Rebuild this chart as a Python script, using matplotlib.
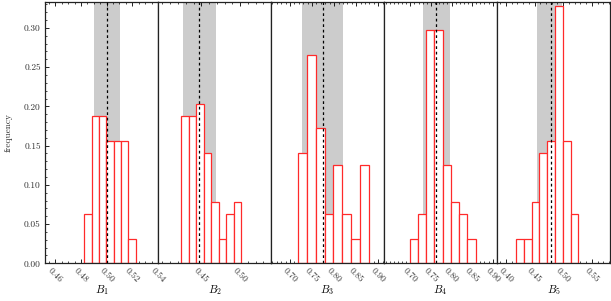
import numpy as np
import matplotlib
matplotlib.use("Agg")
import matplotlib.pyplot as plt
from matplotlib.ticker import FixedLocator, AutoMinorLocator, MultipleLocator, FormatStrFormatter

plt.rcParams['font.family'] = 'serif'
plt.rcParams['font.serif'] = ['cmr10', 'DejaVu Serif']
plt.rcParams['mathtext.fontset'] = 'cm'
plt.rcParams['axes.formatter.use_mathtext'] = True

# --- data ---
labels = ["$B_1$", "$B_2$", "$B_3$", "$B_4$", "$B_5$"]

edges_1 = [0.4826, 0.4883, 0.4940, 0.4998, 0.5055, 0.5112, 0.5168, 0.5225]
freq_1 = [0.0625, 0.1875, 0.1875, 0.15625, 0.15625, 0.15625, 0.03125]

edges_2 = [0.4238, 0.4336, 0.4432, 0.4529, 0.4626, 0.4723, 0.4820, 0.4918, 0.5016]
freq_2 = [0.1875, 0.1875, 0.203, 0.141, 0.078, 0.031, 0.0625, 0.078]

edges_3 = [0.7182, 0.7382, 0.7582, 0.7782, 0.7982, 0.8182, 0.8382, 0.8582, 0.8782]
freq_3 = [0.1403, 0.2657, 0.172, 0.0625, 0.125, 0.0625, 0.0315, 0.125]

edges_4 = [0.6985, 0.7185, 0.7385, 0.7585, 0.7785, 0.7985, 0.8185, 0.8385, 0.8585]
freq_4 = [0.0315, 0.0625, 0.2968, 0.2968, 0.125, 0.0787, 0.0625, 0.0315]

edges_5 = [0.4177, 0.4313, 0.4449, 0.4585, 0.4721, 0.4857, 0.4993, 0.5129, 0.5265]
freq_5 = [0.0315, 0.0315, 0.0787, 0.141, 0.156, 0.328, 0.156, 0.0625]

# median (dashed) and shaded band
centre = [0.5002, 0.4472, 0.7737, 0.7617, 0.4781]
band_lo = [0.4901, 0.4269, 0.7272, 0.7308, 0.4543]
band_hi = [0.5104, 0.4695, 0.8209, 0.7956, 0.4988]

xlims = [(0.452, 0.540), (0.3943, 0.5397), (0.6569, 0.913), (0.6362, 0.9104), (0.3845, 0.5817)]
xticks = [[0.46, 0.48, 0.50, 0.52, 0.54], [0.45, 0.50], [0.70, 0.75, 0.80, 0.85, 0.90],
          [0.70, 0.75, 0.80, 0.85, 0.90], [0.40, 0.45, 0.50, 0.55]]
minor_div = [4, 5, 5, 5, 5]

all_edges = [edges_1, edges_2, edges_3, edges_4, edges_5]
all_freq = [freq_1, freq_2, freq_3, freq_4, freq_5]

fig = plt.figure(figsize=(6.11, 3.01), dpi=100)
left, right, bottom, top = 45 / 611, 610 / 611, 1 - 263.3 / 301, 1 - 2 / 301
w = (right - left) / 5

for i in range(5):
    ax = fig.add_axes([left + i * w, bottom, w, top - bottom])
    e = np.array(all_edges[i])
    ax.axvspan(band_lo[i], band_hi[i], color="#cccccc", lw=0, zorder=1)
    ax.bar(e[:-1], all_freq[i], width=np.diff(e), align="edge", facecolor="white",
           edgecolor="#ff2a2a", linewidth=0.9, zorder=2)
    ax.axvline(centre[i], color="black", lw=0.9, dashes=(2.2, 2.2), zorder=3)

    ax.set_xlim(*xlims[i])
    ax.set_ylim(0, 0.333)
    ax.xaxis.set_major_locator(FixedLocator(xticks[i]))
    ax.xaxis.set_major_formatter(FormatStrFormatter("%.2f"))
    ax.xaxis.set_minor_locator(AutoMinorLocator(minor_div[i]))
    ax.tick_params(axis="x", which="both", direction="in", top=True, bottom=True,
                   labelsize=6.8, pad=2.5)
    ax.tick_params(axis="x", which="major", length=3, width=0.6)
    ax.tick_params(axis="x", which="minor", length=1.5, width=0.5)
    for lab in ax.get_xticklabels():
        lab.set_rotation(-45)
        lab.set_ha("center")
        lab.set_color("#333333")

    ax.set_xlabel(labels[i], fontsize=8, labelpad=-1)

    if i == 0:
        ax.yaxis.set_major_locator(MultipleLocator(0.05))
        ax.yaxis.set_major_formatter(FormatStrFormatter("%.2f"))
        ax.yaxis.set_minor_locator(AutoMinorLocator(5))
        ax.tick_params(axis="y", which="both", direction="in", left=True, right=False,
                       labelsize=6.8, labelcolor="#333333", pad=3)
        ax.tick_params(axis="y", which="major", length=3, width=0.6)
        ax.tick_params(axis="y", which="minor", length=1.5, width=0.5)
        ax.set_ylabel("frequency", fontsize=6.8, color="#333333", labelpad=8)
    else:
        ax.tick_params(axis="y", which="both", left=False, right=False, labelleft=False)

    for s in ax.spines.values():
        s.set_linewidth(0.9)
        s.set_color("#222222")

fig.savefig("out.png", dpi=100)
